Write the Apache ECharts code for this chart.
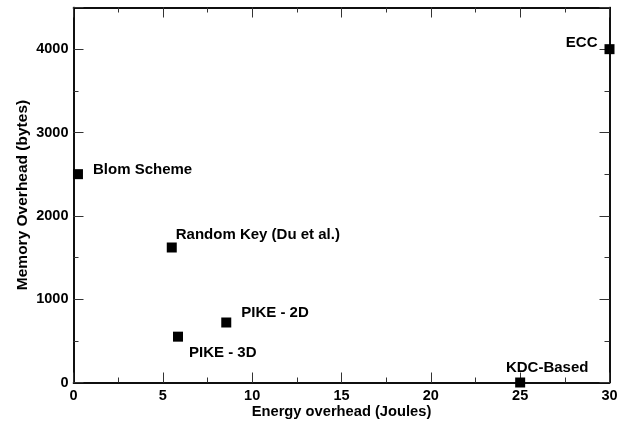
<!DOCTYPE html>
<html><head><meta charset="utf-8">
<script src="https://cdn.jsdelivr.net/npm/echarts@6/dist/echarts.min.js"></script>
<style>html,body{margin:0;padding:0;background:#fff}#c{width:629px;height:426px}</style>
</head><body><div id="c"></div>
<script>
var schemes = ['Blom Scheme', 'Random Key (Du et al.)', 'PIKE - 2D', 'PIKE - 3D', 'KDC-Based', 'ECC'];
var energy = [0.25, 5.5, 8.55, 5.85, 25, 30];
var memory = [2500, 1620, 720, 550, 0, 4000];
var xTicks = [0, 5, 10, 15, 20, 25, 30];
var yTicks = [0, 1000, 2000, 3000, 4000];

// label layout (styling only)
var labelLayout = [
  {offset: [15, -4], align: 'left'},
  {offset: [4, -13], align: 'left'},
  {offset: [15, -10], align: 'left'},
  {offset: [11, 16], align: 'left'},
  {offset: [27, -15], align: 'center'},
  {offset: [-12, -6], align: 'right'}
];

var FONT = 'Liberation Sans, Arial, Helvetica, sans-serif';
var lineStyle = {color: '#000', width: 1.5};
var tickStyle = {color: '#333', width: 1};

var data = schemes.map(function (n, i) {
  return {
    name: n, value: [energy[i], memory[i]],
    label: {offset: labelLayout[i].offset, align: labelLayout[i].align}
  };
});

function yAxis(pos, major, labels) {
  return {
    type: 'value', position: pos, min: 0, max: 4500,
    interval: major ? 1000 : 500,
    axisLine: {show: true, onZero: false, lineStyle: lineStyle},
    axisTick: {show: true, inside: true, length: major ? 10 : 5, lineStyle: tickStyle},
    splitLine: {show: false},
    axisLabel: labels ? {
      show: true, margin: 5, color: '#000', fontWeight: 'bold', fontSize: 14.5, fontFamily: FONT,
      formatter: function (v) { return yTicks.indexOf(v) >= 0 ? String(v) : ''; }
    } : {show: false},
    name: labels ? 'Memory Overhead (bytes)' : '',
    nameLocation: 'middle', nameGap: 43, nameMoveOverlap: false,
    nameTextStyle: {color: '#000', fontWeight: 'bold', fontSize: 15.5, fontFamily: FONT}
  };
}
function xAxis(pos, major, labels) {
  return {
    type: 'value', position: pos, min: 0, max: 30, interval: major ? 5 : 2.5,
    axisLine: {show: true, onZero: false, lineStyle: lineStyle},
    axisTick: {show: true, inside: true, length: major ? 10 : 5, lineStyle: tickStyle},
    splitLine: {show: false},
    axisLabel: labels ? {
      show: true, margin: 6, color: '#000', fontWeight: 'bold', fontSize: 14.5, fontFamily: FONT,
      formatter: function (v) { return xTicks.indexOf(v) >= 0 ? String(v) : ''; }
    } : {show: false},
    name: labels ? 'Energy overhead (Joules)' : '',
    nameLocation: 'middle', nameGap: 22, nameMoveOverlap: false,
    nameTextStyle: {color: '#000', fontWeight: 'bold', fontSize: 14.7, fontFamily: FONT}
  };
}

var chart = echarts.init(document.getElementById('c'), null, {renderer: 'canvas'});
chart.setOption({
  animation: false,
  backgroundColor: '#fff',
  grid: {left: 73.5, right: 19.5, top: 7.5, bottom: 43.5, containLabel: false},
  xAxis: [xAxis('bottom', false, true), xAxis('bottom', true, false), xAxis('top', false, false), xAxis('top', true, false)],
  yAxis: [yAxis('left', false, true), yAxis('left', true, false), yAxis('right', false, false), yAxis('right', true, false)],
  series: [{
    type: 'scatter', xAxisIndex: 0, yAxisIndex: 0,
    symbol: 'rect', symbolSize: 10,
    itemStyle: {color: '#000', opacity: 1},
    label: {
      show: true, position: 'inside', verticalAlign: 'middle',
      formatter: '{b}', color: '#000', fontWeight: 'bold', fontSize: 15, fontFamily: FONT
    },
    data: data
  }]
});
</script></body></html>
